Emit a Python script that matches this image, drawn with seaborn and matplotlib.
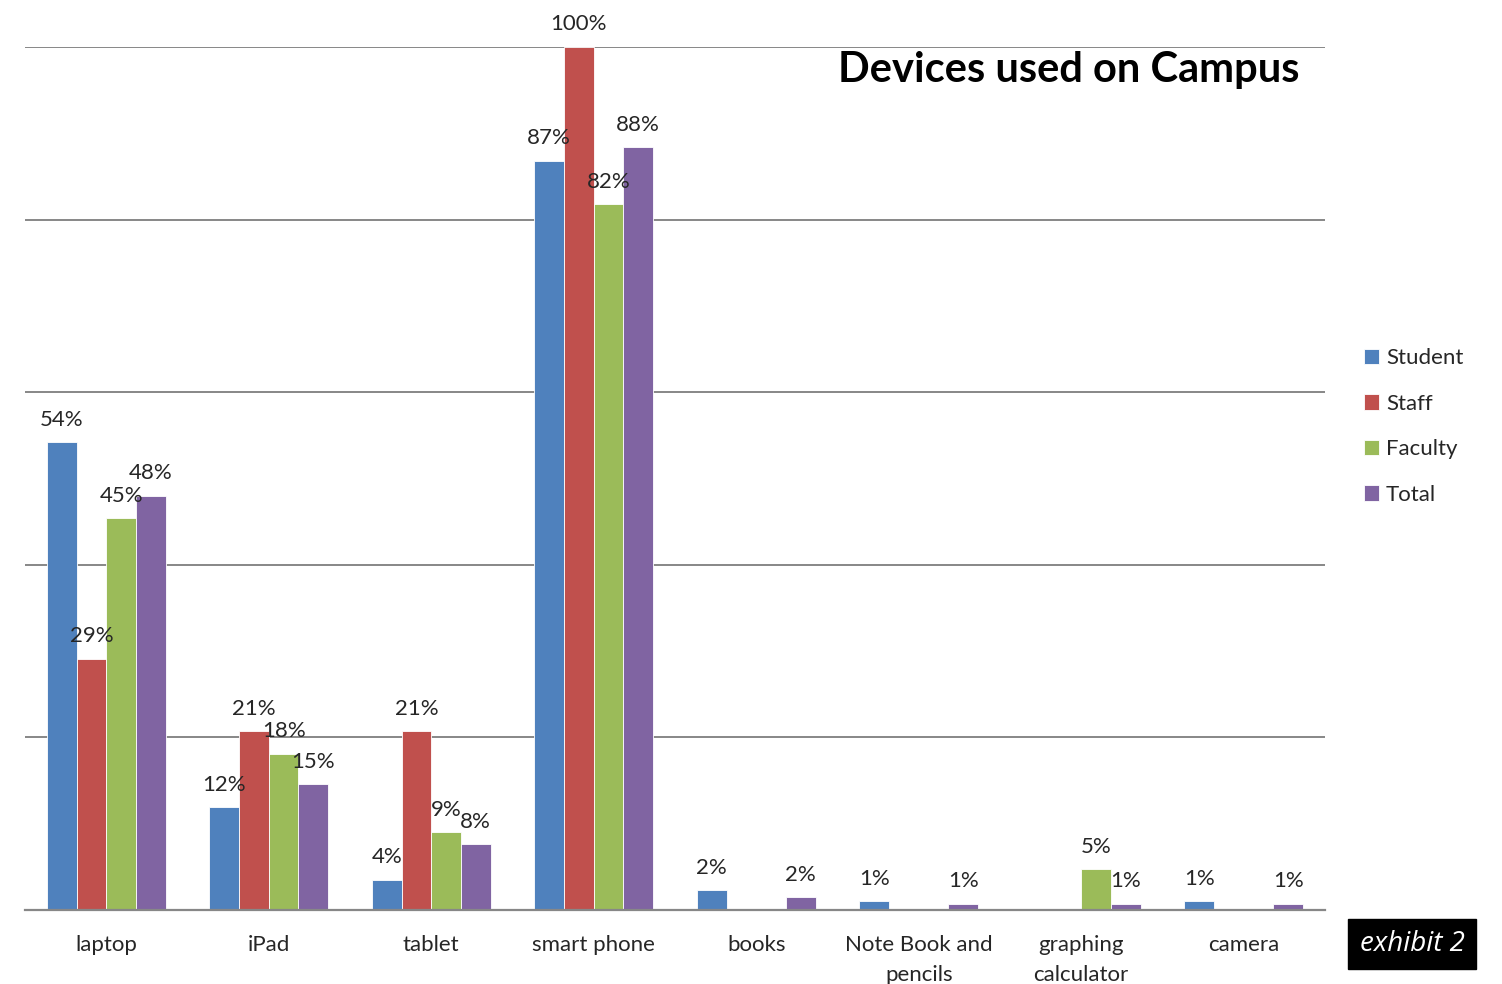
import matplotlib
matplotlib.use("Agg")
import matplotlib.pyplot as plt
import seaborn as sns
import pandas as pd

# Survey results: share of respondents using each device on campus
categories = ["laptop", "iPad", "tablet", "smart phone", "books",
              "Note Book and\npencils", "graphing\ncalculator", "camera"]
student = [0.542, 0.119, 0.035, 0.868, 0.023, 0.010, 0.0, 0.010]
staff = [0.291, 0.207, 0.207, 1.000, 0.0, 0.0, 0.0, 0.0]
faculty = [0.454, 0.181, 0.090, 0.818, 0.0, 0.0, 0.047, 0.0]
total = [0.480, 0.146, 0.076, 0.884, 0.015, 0.007, 0.007, 0.007]
series_names = ["Student", "Staff", "Faculty", "Total"]
series_colors = ["#4F81BD", "#C0504D", "#9BBB59", "#8064A2"]

series_values = [student, staff, faculty, total]
df = pd.DataFrame({
    "device": [c for _ in series_names for c in categories],
    "group": [g for g in series_names for _ in categories],
    "share": [v for vals in series_values for v in vals],
})

sns.set_theme(style="white")
plt.rcParams["font.family"] = ["Lato", "DejaVu Sans"]

fig = plt.figure(figsize=(15.02, 9.84), dpi=100)
ax = fig.add_axes([25 / 1502, 74 / 984, 1300 / 1502, 863 / 984])

sns.barplot(data=df, x="device", y="share", hue="group", order=categories,
            hue_order=series_names, palette=series_colors, saturation=1,
            width=0.73, edgecolor="white", linewidth=0.6, ax=ax, legend=True)

ax.set_ylim(0, 1.0)
ax.set_xlim(-0.5, len(categories) - 0.5)
ax.set_yticks([0.2, 0.4, 0.6, 0.8, 1.0])
ax.set_yticklabels([])
ax.tick_params(axis="y", length=0)
ax.yaxis.grid(True, color="#878787", linewidth=1.4)
ax.set_axisbelow(True)
ax.set_xlabel("")
ax.set_ylabel("")
for side in ["left", "right", "top"]:
    ax.spines[side].set_visible(False)
ax.spines["bottom"].set_color("#878787")
ax.spines["bottom"].set_linewidth(1.6)

# category labels without tick marks, boundary ticks as minor ticks
ax.set_xticks(range(len(categories)))
ax.set_xticklabels(categories, fontsize=16, linespacing=1.6)
ax.tick_params(axis="x", which="major", length=0, pad=18)
ax.set_xticks([i - 0.5 for i in range(len(categories) + 1)], minor=True)
ax.tick_params(axis="x", which="minor", length=6, width=1.6,
               color="#878787", direction="out")

# value labels above every non-zero bar
for container, vals in zip(ax.containers, series_values):
    labels = [f"{v:.0%}" if v > 0 else "" for v in vals]
    ax.bar_label(container, labels=labels, padding=9, fontsize=16)

# legend at the right
handles, labels = ax.get_legend_handles_labels()
ax.legend(handles, labels, loc="center left", bbox_to_anchor=(1.023, 0.56),
          frameon=False, fontsize=16, handlelength=0.7, handleheight=0.7,
          handletextpad=0.3, labelspacing=1.15, borderaxespad=0)

fig.text(1300 / 1502, 1 - 70 / 984, "Devices used on Campus", ha="right",
         va="center", fontsize=30, fontweight="bold", color="black")

fig.text(1412 / 1502, 1 - 944 / 984, "exhibit 2", ha="center", va="center",
         fontsize=20, style="italic", color="white",
         family=["Open Sans", "DejaVu Sans"],
         bbox=dict(boxstyle="square,pad=0.4", facecolor="black",
                   edgecolor="black"))

fig.savefig("out.png", dpi=100, facecolor="white")
